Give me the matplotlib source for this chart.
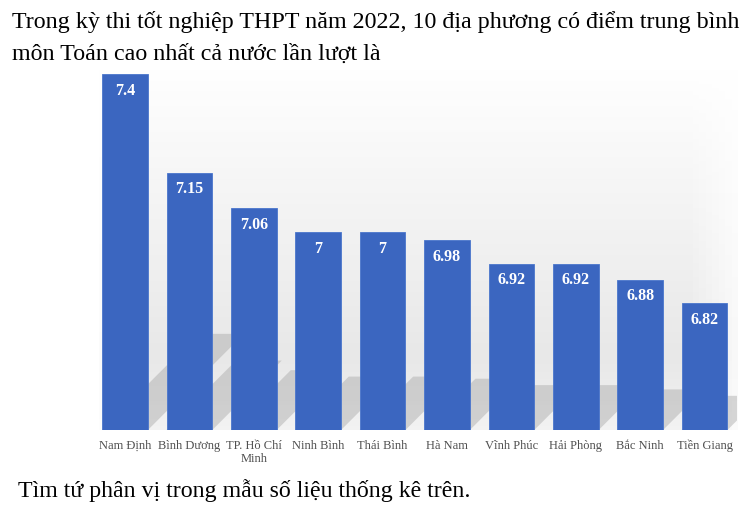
import matplotlib.pyplot as plt
import numpy as np
from matplotlib.patches import Polygon

plt.rcParams['font.family'] = ['Liberation Serif', 'DejaVu Serif']

provinces = ['Nam Định', 'Bình Dương', 'TP. Hồ Chí\nMinh', 'Ninh Bình', 'Thái Bình',
             'Hà Nam', 'Vĩnh Phúc', 'Hải Phòng', 'Bắc Ninh', 'Tiền Giang']
scores = [7.4, 7.15, 7.06, 7, 7, 6.98, 6.92, 6.92, 6.88, 6.82]
score_labels = ['7.4', '7.15', '7.06', '7', '7', '6.98', '6.92', '6.92', '6.88', '6.82']

title_lines = ['Trong kỳ thi tốt nghiệp THPT năm 2022, 10 địa phương có điểm trung bình',
               'môn Toán cao nhất cả nước lần lượt là']
question = 'Tìm tứ phân vị trong mẫu số liệu thống kê trên.'

W, H = 744, 509
fig = plt.figure(figsize=(W / 100, H / 100), dpi=100)
fig.patch.set_facecolor('white')

ax = fig.add_axes([92.8 / W, (H - 430) / H, 644 / W, 364 / H])
base = 6.5
ax.set_xlim(-0.5, 9.5)
ax.set_ylim(base, 7.42)

# soft grey backdrop, fading out towards the top and sides
gy = np.concatenate([np.linspace(1.0, 0.91, 80), np.linspace(0.91, 0.95, 20)])
gx = np.concatenate([np.linspace(0.0, 1.0, 8), np.ones(84), np.linspace(1.0, 0.3, 8)])
shade = 1 - np.outer(1 - gy, gx)
bg = np.dstack([shade, shade, shade])
ax.imshow(bg, extent=[-0.5, 9.5, base, 7.42], aspect='auto', zorder=0, origin='upper')

x = np.arange(len(scores))
bars = ax.bar(x, np.array(scores) - base, bottom=base, width=0.71,
              color='#3b66c0', edgecolor='#4a76cc', linewidth=0.6, zorder=3)

# floor shadows, cast up and to the right
inv = ax.transData.inverted()
for xi, v in zip(x, scores):
    (x0, y0), (x1, y1) = ax.transData.transform([(xi - 0.355, base), (xi + 0.355, v)])
    s = (y1 - y0) * 0.27
    pts = inv.transform([(x0, y0), (x1, y0), (x1 + s, y0 + s), (x0 + s, y0 + s)])
    ax.add_patch(Polygon(pts, closed=True, facecolor='#a8a8a8', alpha=0.45,
                         edgecolor='none', zorder=1))

for xi, v, lab in zip(x, scores, score_labels):
    ax.annotate(lab, (xi, v), xytext=(0, -12), textcoords='offset points',
                ha='center', va='center', color='white', fontsize=11.5,
                fontweight='bold', zorder=4)

ax.set_xticks(x)
ax.set_xticklabels(provinces, fontsize=9, color='#505050', linespacing=1.1)
ax.tick_params(axis='x', length=0, pad=7)
ax.set_yticks([])
for sp in ax.spines.values():
    sp.set_visible(False)

fig.text(12 / W, 1 - 28 / H, title_lines[0], fontsize=17.3, va='baseline', ha='left')
fig.text(12 / W, 1 - 60 / H, title_lines[1], fontsize=17.3, va='baseline', ha='left')
fig.text(18 / W, 1 - 497 / H, question, fontsize=17.2, va='baseline', ha='left')

fig.savefig('out.png', dpi=100)
